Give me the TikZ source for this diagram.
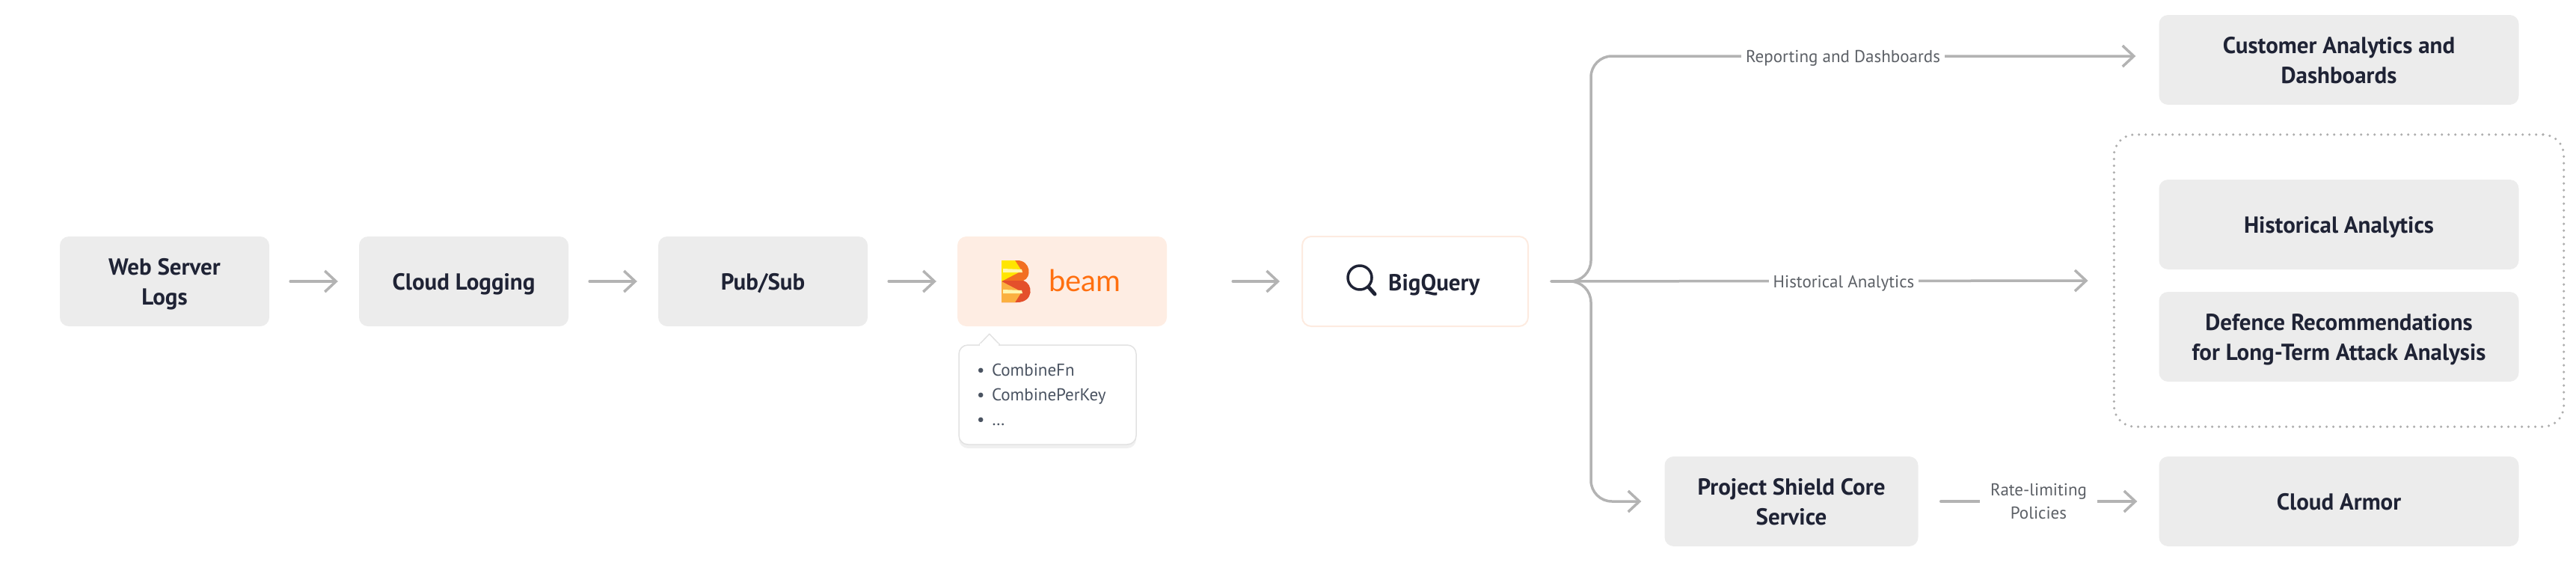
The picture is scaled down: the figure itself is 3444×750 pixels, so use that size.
\documentclass[tikz,border=0pt]{standalone}
\usepackage{fontspec}
\setmainfont{PT Sans}
\newfontfamily\beamfont{Lato}
\usetikzlibrary{arrows.meta,fit,shadows,calc}
\definecolor{boxgray}{HTML}{ECECEC}
\definecolor{ink}{HTML}{1F2335}
\definecolor{wire}{HTML}{B3B3B3}
\definecolor{dots}{HTML}{ADADAD}
\definecolor{note}{HTML}{5C6066}
\definecolor{beamfill}{HTML}{FEEDE3}
\definecolor{beamorange}{HTML}{FF6F0F}
\definecolor{bqedge}{HTML}{FDEBE0}
\definecolor{tipedge}{HTML}{E2E2E2}
\definecolor{tiptext}{HTML}{4A5361}
\definecolor{logoOrange}{HTML}{F26F21}
\definecolor{logoRed}{HTML}{E4502B}
\definecolor{logoYellow}{HTML}{FFE500}
\definecolor{logoGold}{HTML}{FBB040}
\definecolor{logoLight}{HTML}{FFF6B0}
\begin{document}
\begin{tikzpicture}[x=1pt, y=-1pt, line join=round, line cap=round, >={Straight Barb[length=15pt,width=28pt]},
	stage/.style={fill=boxgray, rounded corners=12pt, minimum width=280pt, minimum height=120pt, align=center, text=ink, text depth=0pt, font=\bfseries\fontsize{31}{40}\selectfont},
	widestage/.style={stage, minimum width=481pt},
	flow/.style={draw=wire, line width=3.5pt, ->, shorten <=28pt, shorten >=28pt},
	tag/.style={fill=white, text=note, text depth=0pt, inner xsep=6pt, inner ysep=3pt, align=center, font=\fontsize{23}{31}\selectfont},
	group/.style={draw=dots, line width=3.5pt, dash pattern=on 0pt off 9pt, rounded corners=28pt, inner xsep=60pt, inner ysep=60pt},
	callbox/.style={fill=white, draw=tipedge, line width=1.5pt, rounded corners=12pt, text width=189pt, inner xsep=24pt, minimum height=133pt, align=left, text=tiptext, font=\fontsize{23}{33}\selectfont, drop shadow={opacity=0.12, shadow xshift=0pt, shadow yshift=-5pt}}]
	\useasboundingbox (0,0) rectangle (3444,750);
	\node[stage] (logs) at (220,376) {Web Server\\Logs};
	\node[stage] (logging) at (620,376) {Cloud Logging};
	\node[stage] (pubsub) at (1020,376) {Pub/Sub};
	\node[stage, fill=beamfill] (beam) at (1420,376) {};
	\node[anchor=base west, inner sep=0pt, text=beamorange, font=\beamfont\fontsize{40}{40}\selectfont] (beamword) at (1402,389) {beam};
	\begin{scope}[shift={(1339,348)}]
	\fill[logoOrange] (0,0) -- (21,0) .. controls (39,0) and (41,23) .. (29,27) -- (0,27) -- cycle;
	\fill[logoRed] (0,27) -- (29,27) .. controls (43,31) and (43,56) .. (21,56) -- (0,56) -- cycle;
	\fill[logoYellow] (0,0) -- (18,0) -- (27,14) -- (0,28) -- cycle;
	\fill[logoGold] (0,28) -- (27,42) -- (18,56) -- (0,56) -- cycle;
	\fill[logoLight] (2,11) -- (27,12) -- (28,16) -- (2,16) -- cycle;
	\fill[logoLight] (2,39) -- (27,40) -- (28,44) -- (2,44) -- cycle;
	\end{scope}
	\node[callbox] (combine) at (1400.5,527.5) {\makebox[20pt][l]{\textbullet}CombineFn\\\makebox[20pt][l]{\textbullet}CombinePerKey\\\makebox[20pt][l]{\textbullet}\dots};
	\draw[draw=tipedge, line width=1.5pt, fill=white] ($(combine.north west)+(28,0)$) -- ++(13.5,-14) -- ++(13.5,14);
	\fill[white] ($(combine.north west)+(29,2)$) rectangle ($(combine.north west)+(54,-1)$);
	\node[stage, fill=white, draw=bqedge, line width=2pt, minimum width=302pt] (bigq) at (1892,376) {};
	\node[anchor=base west, inner sep=0pt, text=ink, font=\bfseries\fontsize{31}{40}\selectfont] (bqword) at (1856,388) {BigQuery};
	\draw[ink, line width=3.5pt] (1818,371) circle (16);
	\draw[ink, line width=5pt] (1830,384) -- (1838,393);
	\node[widestage] (custA) at (3127,80) {Customer Analytics and\\Dashboards};
	\node[widestage] (hist) at (3127,300) {Historical Analytics};
	\node[widestage] (defence) at (3127,450) {Defence Recommendations\\for Long-Term Attack Analysis};
	\node[group, fit=(hist)(defence)] (grp) {};
	\node[stage, minimum width=339pt] (shield) at (2395,670) {Project Shield Core\\Service};
	\node[widestage] (armor) at (3127,670) {Cloud Armor};
	\coordinate (fork) at (2127,376);
	\foreach \a/\b in {logs/logging, logging/pubsub, pubsub/beam} \draw[flow] (\a) -- (\b);
	\draw[flow, shorten <=88pt, shorten >=29pt] (beam) -- (bigq);
	\draw[flow, rounded corners=28pt, shorten <=30pt, shorten >=31pt] (bigq.east) -- (fork) |- ([yshift=5pt]custA.west);
	\draw[flow, shorten <=30pt, shorten >=33pt] (bigq.east) -- (grp.west);
	\draw[flow, rounded corners=28pt, shorten <=30pt, shorten >=31pt] (bigq.east) -- (fork) |- (shield.west);
	\draw[flow, shorten <=30pt, shorten >=29pt] (shield) -- (armor);
	\node[tag] (repLbl) at (2464,75) {Reporting and Dashboards};
	\node[tag] (histLbl) at (2465,376) {Historical Analytics};
	\node[tag, inner xsep=14pt] (rateLbl) at ($(shield.east)!0.5!(armor.west)$) {Rate-limiting\\Policies};
\end{tikzpicture}
\end{document}
